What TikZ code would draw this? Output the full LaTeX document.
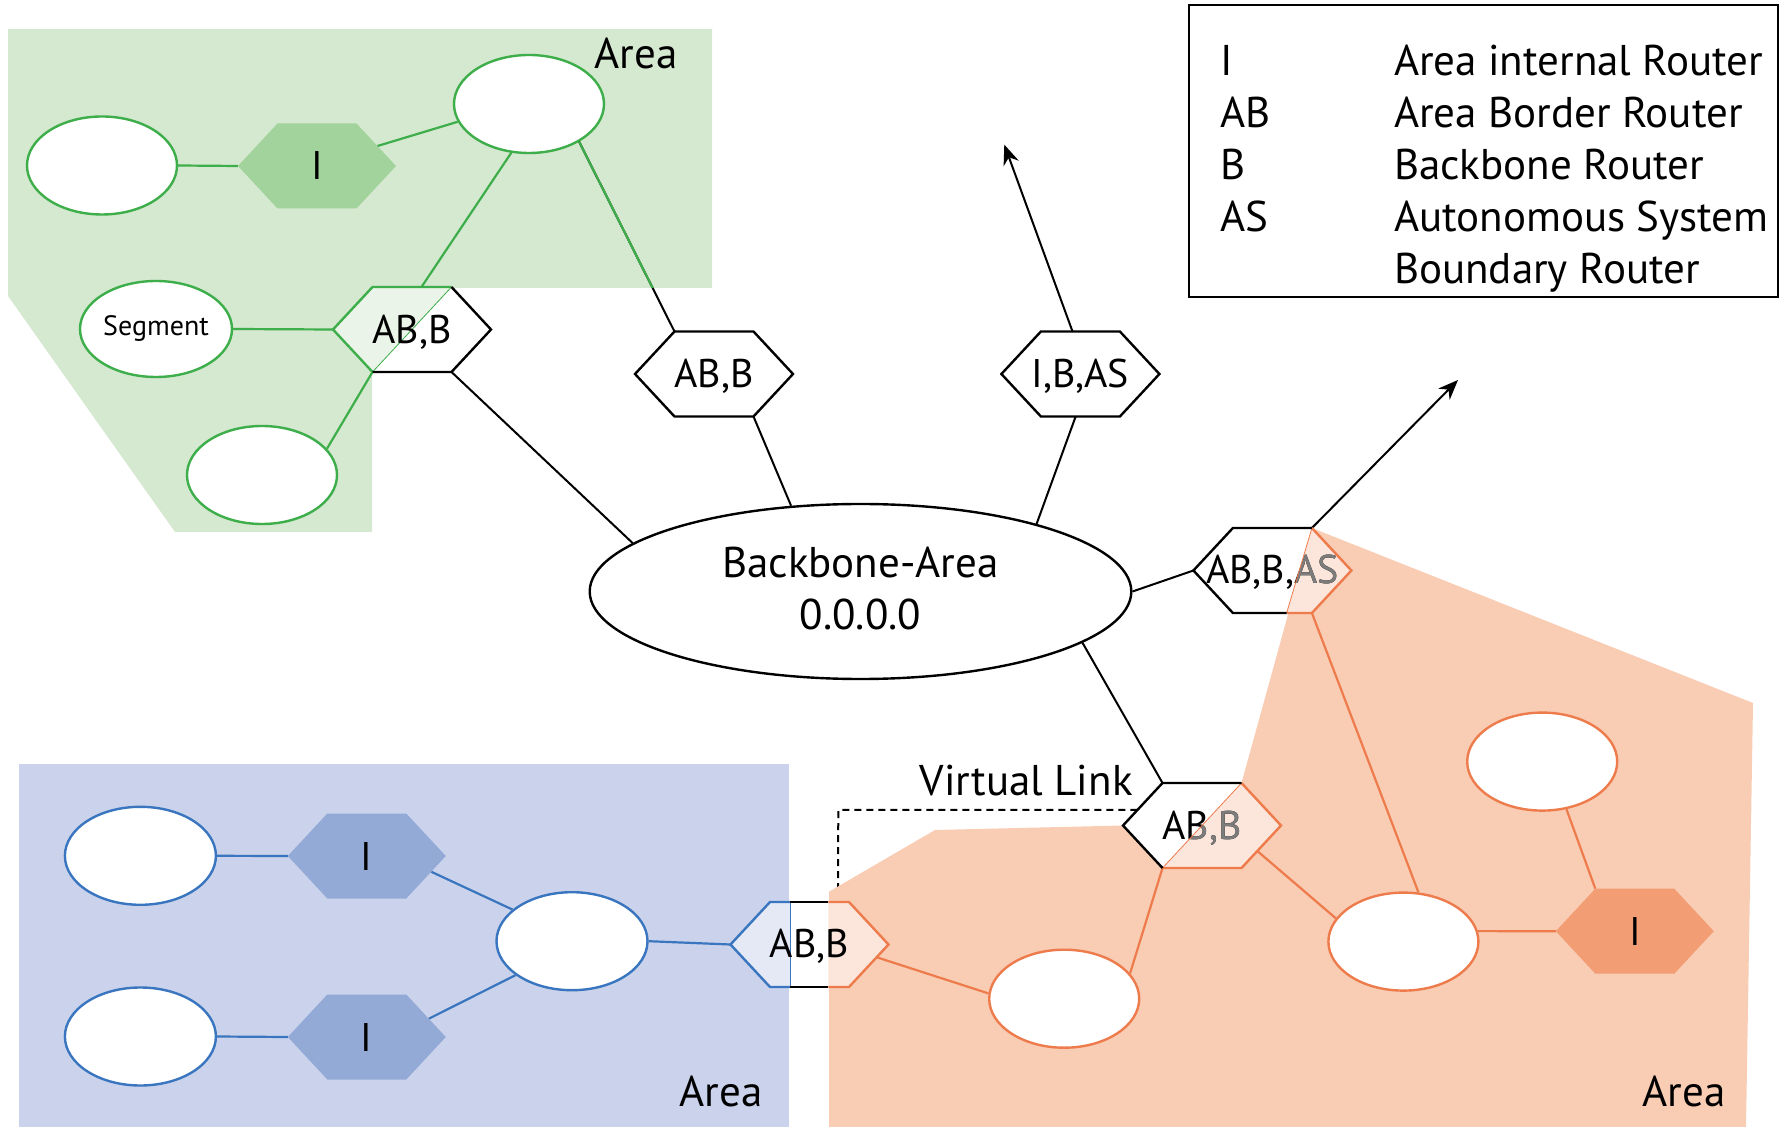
\documentclass[tikz,border=0pt]{standalone}
\usepackage{fontspec}
\setmainfont{PT Sans}
\usetikzlibrary{arrows.meta,calc,shapes.geometric}
\definecolor{gArea}{HTML}{D5E8D0}
\definecolor{gLine}{HTML}{3DAE4A}
\definecolor{gFill}{HTML}{A3D39C}
\definecolor{bArea}{HTML}{CAD3EB}
\definecolor{bLine}{HTML}{3A75BF}
\definecolor{bFill}{HTML}{94AAD6}
\definecolor{oArea}{HTML}{F9CCB4}
\definecolor{oLine}{HTML}{EE7B4C}
\definecolor{oFill}{HTML}{F29D74}
\definecolor{dimText}{HTML}{7C7C7C}
\newcommand\hexat[3]{%
  \coordinate (#1) at (#2,#3);
  \coordinate (#1-W) at ({#2-79},{#3});
  \coordinate (#1-NW) at ({#2-39.5},{#3-42.5});
  \coordinate (#1-NE) at ({#2+39.5},{#3-42.5});
  \coordinate (#1-E) at ({#2+79},{#3});
  \coordinate (#1-SE) at ({#2+39.5},{#3+42.5});
  \coordinate (#1-SW) at ({#2-39.5},{#3+42.5});
}
\newcommand\hexpath[1]{(#1-W) -- (#1-NW) -- (#1-NE) -- (#1-E) -- (#1-SE) -- (#1-SW) -- cycle}
\begin{document}
\begin{tikzpicture}[x=0.5pt,y=-0.5pt,
  ell/.style={ellipse, draw, fill=white, line width=1.2pt, inner sep=0pt},
  gell/.style={ell, draw=gLine, minimum width=75pt, minimum height=49pt},
  bell/.style={ell, draw=bLine, minimum width=75.5pt, minimum height=49pt},
  oell/.style={ell, draw=oLine, minimum width=75pt, minimum height=49pt},
  txt/.style={inner sep=0pt, font=\fontsize{21.5}{26}\selectfont},
  htxt/.style={inner sep=0pt, font=\fontsize{20}{24}\selectfont},
  conn/.style={line width=1pt},
  cconn/.style={line width=1.1pt},
  hexline/.style={line width=1.2pt, line join=miter},
  tip/.style={-{Stealth[length=10pt,width=8pt]}},
  ]
\useasboundingbox (0,0) rectangle (1787,1127);

% hexagon geometry
\hexat{gI}{317}{166}
\hexat{gab}{412}{329.5}
\hexat{hab2}{714}{374}
\hexat{hib}{1080.4}{374}
\hexat{habas}{1272.4}{570.5}
\hexat{hab3}{1202}{825.5}
\hexat{hab4}{809.5}{944.5}
\hexat{bI1}{366.8}{856}
\hexat{bI2}{366.8}{1037}
\hexat{oI}{1634.8}{931.2}

% virtual link (dashed)
\coordinate (vlA) at ($(hab4-NW)!0.86!(hab4-NE)$);
\coordinate (vlC) at (838.3,810);
\coordinate (vlB) at ($(hab3-W)!0.37!(hab3-NW)$);
\draw[line width=1pt, dash pattern=on 3.5pt off 2.5pt] (vlA) -- (vlC) -- (vlB);

% areas
\fill[gArea] (8,29) -- (712,29) -- (712,288) -- (372,288) -- (372,532) -- (175,532) -- (8,296) -- cycle;
\fill[bArea] (19,764) rectangle (789,1127);
\fill[oArea] (habas-NE) -- (1753,703) -- (1746,1127) -- (829,1127) -- (829,891.7) -- (935,830) -- (hab3-W) -- (hab3-NE) -- cycle;

% ellipses
\node[gell] (gtop) at (529,104) {};
\node[gell] (gleft) at (102,165.5) {};
\node[gell, minimum width=76pt, minimum height=48pt, font=\fontsize{14}{16}\selectfont] (gseg) at (156,329) {Segment};
\node[gell] (gbot) at (262,475) {};
\node[ell, minimum width=270.8pt, minimum height=87.5pt] (bb) at (860.5,591.5) {};
\node[bell] (bTL) at (140.4,855.8) {};
\node[bell] (bBL) at (140.4,1036.5) {};
\node[bell] (bmid) at (572,941.2) {};
\node[oell] (oleft) at (1064.2,998.7) {};
\node[oell] (oright) at (1403.4,941.6) {};
\node[oell] (otop) at (1542.2,761.6) {};

% connectors
\draw[cconn,gLine] (gleft.east) -- (gI-W);
\draw[cconn,gLine] ($(gI-NE)!0.53!(gI-E)$) -- (gtop.194);
\draw[cconn,gLine] (gtop.250) -- ($(gab-NW)!0.62!(gab-NE)$);
\draw[conn] (gtop.323.4) -- (hab2-NW);
\begin{scope}
  \clip (8,29) -- (712,29) -- (712,288) -- (372,288) -- (372,532) -- (175,532) -- (8,296) -- cycle;
  \draw[cconn,gLine] (gtop.323.4) -- (hab2-NW);
\end{scope}
\draw[cconn,gLine] (gseg.east) -- (gab-W);
\draw[cconn,gLine] (gab-SW) -- (gbot.22.6);
\draw[conn] (gab-SE) -- (bb.168.1);
\draw[conn] (hab2-SE) -- (bb.129);
\draw[conn] ($(hib-SW)!0.44!(hib-SE)$) -- (bb.21.7);
\coordinate (arrA) at (1004.3,144.6);
\coordinate (arrB) at (1458,380);
\draw[conn,tip] ($(hib-NW)!0.4!(hib-NE)$) -- (arrA);
\draw[conn] (bb.east) -- (habas-W);
\draw[conn,tip] (habas-NE) -- (arrB);
\draw[conn] (bb.347.3) -- (hab3-NW);
\draw[cconn,oLine] (habas-SE) -- (oright.73);
\draw[cconn,oLine] (hab3-SW) -- (oleft.21.9);
\draw[cconn,oLine] ($(hab3-E)!0.6!(hab3-SE)$) -- (oright.161.2);
\draw[cconn,oLine] (oright.8.5) -- (oI-W);
\draw[cconn,oLine] (otop.297.7) -- (oI-NW);
\draw[cconn,oLine] ($(hab4-E)!0.3!(hab4-SE)$) -- (oleft.176);
\draw[cconn,bLine] (bTL.east) -- (bI1-W);
\draw[cconn,bLine] (bBL.east) -- (bI2-W);
\draw[cconn,bLine] ($(bI1-E)!0.37!(bI1-SE)$) -- (bmid.152.9);
\draw[cconn,bLine] ($(bI2-E)!0.43!(bI2-NE)$) -- (bmid.211.3);
\draw[cconn,bLine] (bmid.east) -- (hab4-W);

% internal routers (filled hexagons)
\fill[gFill] \hexpath{gI};
\node[htxt] (gIt) at (gI) {I};
\fill[bFill] \hexpath{bI1};
\node[htxt] (bI1t) at (bI1) {I};
\fill[bFill] \hexpath{bI2};
\node[htxt] (bI2t) at (bI2) {I};
\fill[oFill] \hexpath{oI};
\node[htxt] (oIt) at (oI) {I};

% green AB,B
\fill[white] \hexpath{gab};
\fill[gArea!50!white] (gab-W) -- (gab-NW) -- (gab-NE) -- (gab-SW) -- cycle;
\draw[gLine, line width=0.4pt] (gab-NE) -- (gab-SW);
\draw[hexline,gLine] (gab-SW) -- (gab-W) -- (gab-NW) -- (gab-NE);
\draw[hexline] (gab-NE) -- (gab-E) -- (gab-SE) -- (gab-SW);
\node[htxt, anchor=base] (gabt) at ($(gab)+(0,14)$) {AB,B};

% middle AB,B and I,B,AS
\draw[hexline, fill=white] \hexpath{hab2};
\node[htxt, anchor=base] (hab2t) at ($(hab2)+(0,14)$) {AB,B};
\draw[hexline, fill=white] \hexpath{hib};
\node[htxt, anchor=base] (hibt) at ($(hib)+(0,14)$) {I,B,AS};

% AB,B,AS
\coordinate (habas-B) at ($(habas-SW)!0.68!(habas-SE)$);
\fill[white] \hexpath{habas};
\fill[oArea!50!white] (habas-NE) -- (habas-E) -- (habas-SE) -- (habas-B) -- cycle;
\node[htxt, anchor=base] (habast) at ($(habas)+(0,13)$) {AB,B,AS};
\begin{scope}
  \clip (habas-NE) -- (habas-E) -- (habas-SE) -- (habas-B) -- cycle;
  \node[htxt, anchor=base, text=dimText] (habast2) at ($(habas)+(0,13)$) {AB,B,AS};
\end{scope}
\draw[oLine, line width=0.4pt] (habas-NE) -- (habas-B);
\draw[hexline,oLine] (habas-NE) -- (habas-E) -- (habas-SE) -- (habas-B);
\draw[hexline] (habas-B) -- (habas-SW) -- (habas-W) -- (habas-NW) -- (habas-NE);

% AB,B (virtual link end)
\fill[white] \hexpath{hab3};
\fill[oArea!50!white] (hab3-NE) -- (hab3-E) -- (hab3-SE) -- (hab3-SW) -- cycle;
\node[htxt, anchor=base] (hab3t) at ($(hab3)+(0,14)$) {AB,B};
\begin{scope}
  \clip (hab3-NE) -- (hab3-E) -- (hab3-SE) -- (hab3-SW) -- cycle;
  \node[htxt, anchor=base, text=dimText] (hab3t2) at ($(hab3)+(0,14)$) {AB,B};
\end{scope}
\draw[oLine, line width=0.4pt] (hab3-NE) -- (hab3-SW);
\draw[hexline,oLine] (hab3-NE) -- (hab3-E) -- (hab3-SE) -- (hab3-SW);
\draw[hexline] (hab3-SW) -- (hab3-W) -- (hab3-NW) -- (hab3-NE);

% AB,B between blue and orange
\coordinate (h4a) at (790,902);
\coordinate (h4b) at (790,987);
\coordinate (h4c) at (828.3,902);
\coordinate (h4d) at (828.3,987);
\fill[white] \hexpath{hab4};
\fill[bArea!50!white] (hab4-W) -- (hab4-NW) -- (h4a) -- (h4b) -- (hab4-SW) -- cycle;
\fill[oArea!50!white] (h4c) -- (hab4-NE) -- (hab4-E) -- (hab4-SE) -- (h4d) -- cycle;
\draw[bLine, line width=0.4pt] (h4a) -- (h4b);
\draw[hexline,bLine] (h4a) -- (hab4-NW) -- (hab4-W) -- (hab4-SW) -- (h4b);
\draw[hexline] (h4a) -- (h4c) (h4b) -- (h4d);
\draw[hexline,oLine] (h4c) -- (hab4-NE) -- (hab4-E) -- (hab4-SE) -- (h4d);
\node[htxt, anchor=base] (hab4t) at ($(hab4)+(0,13)$) {AB,B};

% labels
\node[txt, anchor=base west] (gAreaLbl) at (594,68.6) {Area};
\node[txt, anchor=base west] (bAreaLbl) at (679,1106) {Area};
\node[txt, anchor=base west] (oAreaLbl) at (1642,1106) {Area};
\node[txt, anchor=base east] (vlLbl) at (1133,795) {Virtual Link};
\node[txt, anchor=base] (bbt1) at (860.5,577.3) {Backbone-Area};
\node[txt, anchor=base] (bbt2) at (860.5,630) {0.0.0.0};

% legend
\draw[line width=1pt] (1189,5.4) rectangle (1778,297);
\node[txt, anchor=base west] (lk1) at (1220,75.7) {I};
\node[txt, anchor=base west] (lv1) at (1393.6,75.7) {Area internal Router};
\node[txt, anchor=base west] (lk2) at (1220,127.5) {AB};
\node[txt, anchor=base west] (lv2) at (1393.6,127.5) {Area Border Router};
\node[txt, anchor=base west] (lk3) at (1220,179.6) {B};
\node[txt, anchor=base west] (lv3) at (1393.6,179.6) {Backbone Router};
\node[txt, anchor=base west] (lk4) at (1220,232) {AS};
\node[txt, anchor=base west] (lv4) at (1393.6,232) {Autonomous System};
\node[txt, anchor=base west] (lv5) at (1393.6,284) {Boundary Router};
\end{tikzpicture}
\end{document}
